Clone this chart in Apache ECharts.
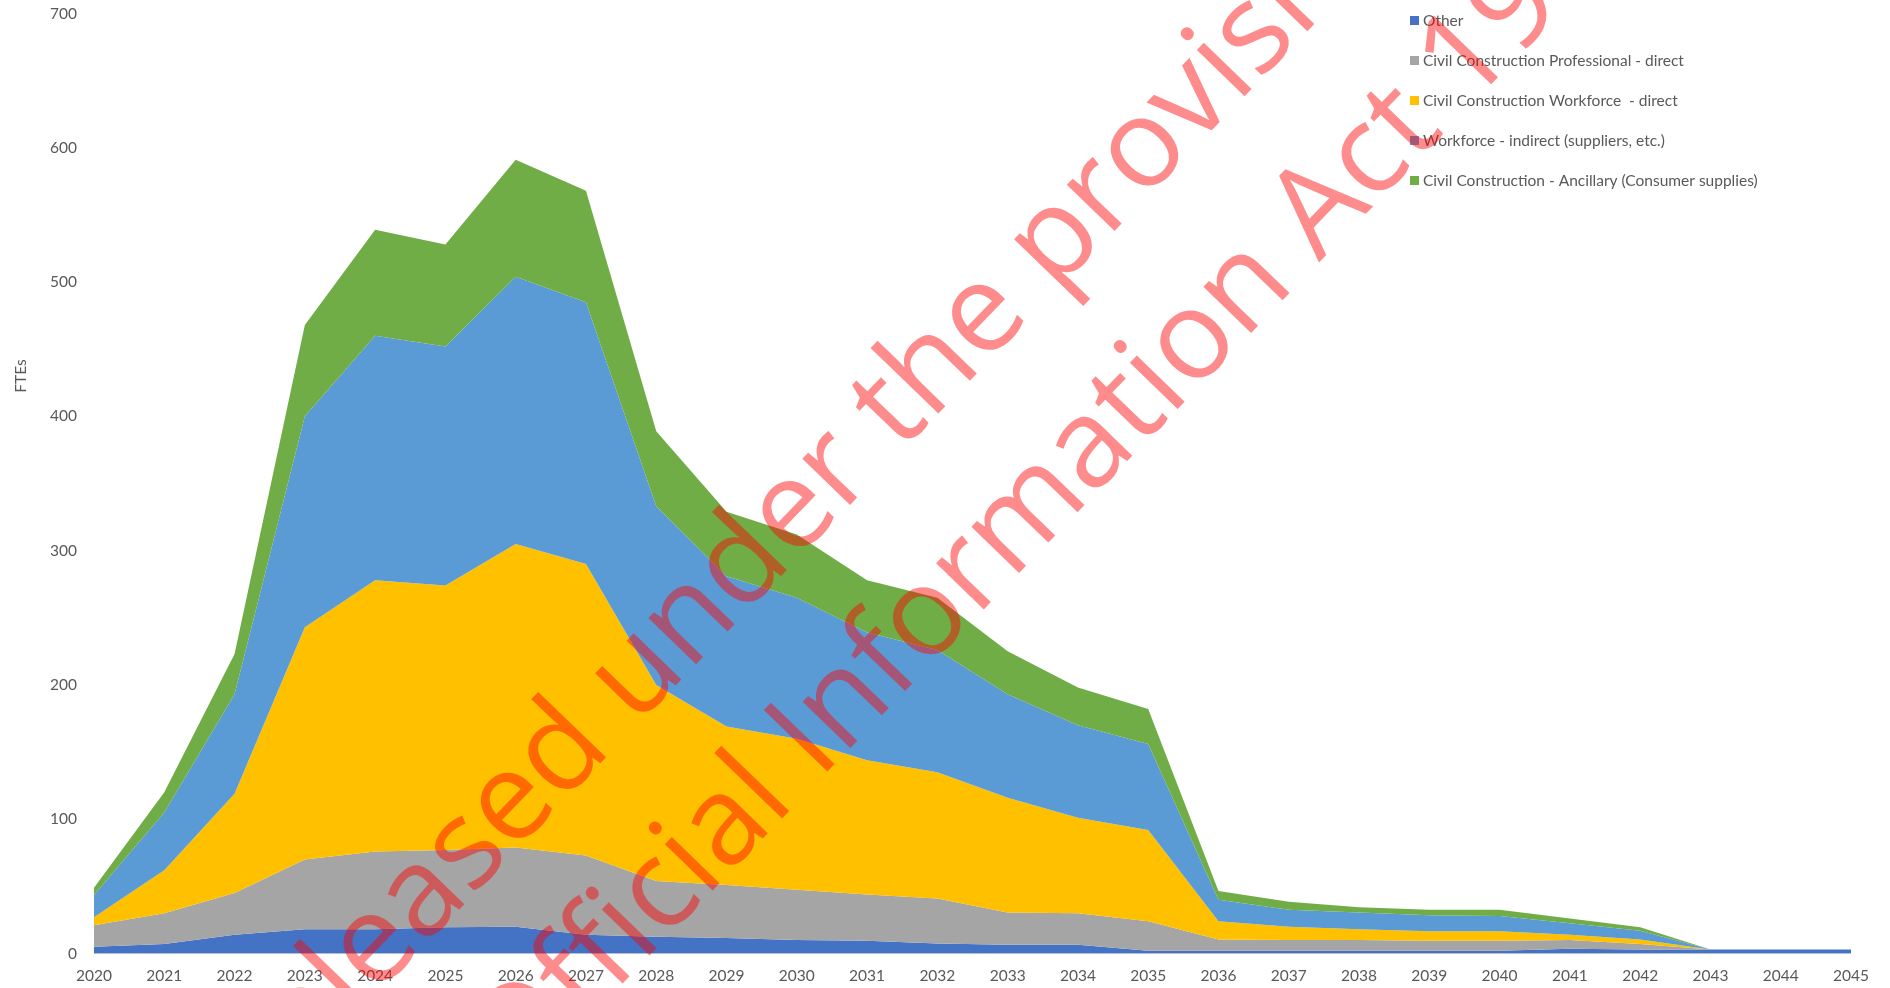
<!DOCTYPE html>
<html>
<head>
<meta charset="utf-8">
<title>FTEs by workforce category, 2020–2045</title>
<script src="https://cdn.jsdelivr.net/npm/echarts@6/dist/echarts.min.js"></script>
<style>
  html, body { margin: 0; padding: 0; background: #ffffff; }
  #chart { width: 1890px; height: 988px; }
</style>
</head>
<body>
<div id="chart"></div>
<script>
// Years on the category axis
const years = ['2020','2021','2022','2023','2024','2025','2026','2027','2028','2029','2030','2031','2032',
               '2033','2034','2035','2036','2037','2038','2039','2040','2041','2042','2043','2044','2045'];

// FTEs per category (stacked bottom to top)
const other        = [5, 7, 14, 18, 18, 19.5, 20, 14, 12.5, 11.5, 10, 9.5, 7.5, 6.5, 6.5, 2, 2, 2, 2, 2, 2, 3.5, 3, 3, 3, 3];
const professional = [16, 23, 31, 52, 58, 57.5, 59, 59, 41.5, 39.5, 37.5, 34.5, 33.5, 24, 23.5, 22, 8.5, 8, 8, 7.5, 7.5, 6.5, 4, 0, 0, 0];
const workforce    = [6, 32, 74, 173, 202, 197, 226, 217, 146, 118, 112.5, 100, 94, 85.5, 71, 68, 13.5, 10, 8, 7, 7, 4, 3.5, 0, 0, 0];
const indirect     = [16.5, 43, 74, 157, 182, 178, 199, 195, 133, 112, 105, 95, 91, 77, 69, 64, 16, 12.5, 12.5, 12, 11.5, 8.5, 6.5, 0, 0, 0];
const ancillary    = [5.5, 15, 30, 68, 79, 76, 87, 83, 56, 48, 47, 39, 39, 32, 28, 26, 6.5, 6, 4, 4, 4.5, 3.5, 2.5, 0, 0, 0];

const seriesNames = [
  'Other',
  'Civil Construction Professional - direct',
  'Civil Construction Workforce  - direct',
  'Workforce - indirect (suppliers, etc.)',
  'Civil Construction - Ancillary (Consumer supplies)'
];
const seriesColors = ['#4472C4', '#A5A5A5', '#FFC000', '#5B9BD5', '#70AD47'];
const seriesData = [other, professional, workforce, indirect, ancillary];

// y-axis scale
const yMin = 0, yMax = 700, yStep = 100;

// Release stamp printed across the chart
const stampLines = ['Released under the provisions of the', 'Official Information Act 1982'];

const labelFont = 'Lato, "Open Sans", sans-serif';
const textGrey = '#595959';

const chart = echarts.init(document.getElementById('chart'), null, { renderer: 'canvas' });

// stamp geometry: two left-aligned lines on a rotated baseline
const stampSize = 124;
const stampFont = stampSize + 'px "Open Sans"';
const stampFill = 'rgba(255,0,0,0.45)';
const stampAngle = 46 * Math.PI / 180;
const midToBase = 0.388 * stampSize;

chart.setOption({
  backgroundColor: '#ffffff',
  animation: false,
  grid: { left: 94, right: 39, top: 13.5, bottom: 34.5, containLabel: false },
  legend: {
    orient: 'vertical',
    left: 1410,
    top: 11.5,
    padding: 0,
    itemWidth: 9,
    itemHeight: 9,
    itemGap: 22,
    icon: 'rect',
    data: seriesNames,
    textStyle: { color: textGrey, fontSize: 15.5, fontFamily: labelFont, lineHeight: 18, padding: [0, 0, 0, -1] }
  },
  xAxis: {
    type: 'category',
    data: years,
    boundaryGap: false,
    axisLine: { show: true, lineStyle: { color: '#D9D9D9', width: 1 } },
    axisTick: { show: false },
    axisLabel: { interval: 0, color: textGrey, fontSize: 15.5, fontFamily: labelFont, margin: 14 },
    splitLine: { show: false }
  },
  yAxis: {
    type: 'value',
    min: yMin,
    max: yMax,
    interval: yStep,
    axisLine: { show: false },
    axisTick: { show: false },
    splitLine: { show: false },
    axisLabel: { color: textGrey, fontSize: 15.5, fontFamily: labelFont, margin: 17 }
  },
  series: seriesData.map((d, i) => ({
    name: seriesNames[i],
    type: 'line',
    stack: 'fte',
    data: d,
    symbol: 'none',
    lineStyle: { width: 0 },
    areaStyle: { color: seriesColors[i], opacity: 1 },
    itemStyle: { color: seriesColors[i] },
    emphasis: { disabled: true }
  })),
  graphic: [
    {
      type: 'text',
      x: 20.5,
      y: 376,
      rotation: Math.PI / 2,
      silent: true,
      style: { text: 'FTEs', fill: textGrey, font: '15.5px ' + labelFont, textAlign: 'center', textVerticalAlign: 'middle' }
    },
    {
      type: 'group',
      x: 837,
      y: 780,
      rotation: stampAngle,
      silent: true,
      z: 100,
      zlevel: 1,
      children: [
        {
          type: 'text', x: -654, y: -169 - midToBase, z: 100, zlevel: 1,
          style: { text: stampLines[0], font: stampFont, fill: stampFill, textAlign: 'left', textVerticalAlign: 'middle' }
        },
        {
          type: 'text', x: -447, y: -midToBase, z: 100, zlevel: 1,
          style: { text: stampLines[1], font: stampFont, fill: stampFill, textAlign: 'left', textVerticalAlign: 'middle' }
        }
      ]
    }
  ]
});
</script>
</body>
</html>
